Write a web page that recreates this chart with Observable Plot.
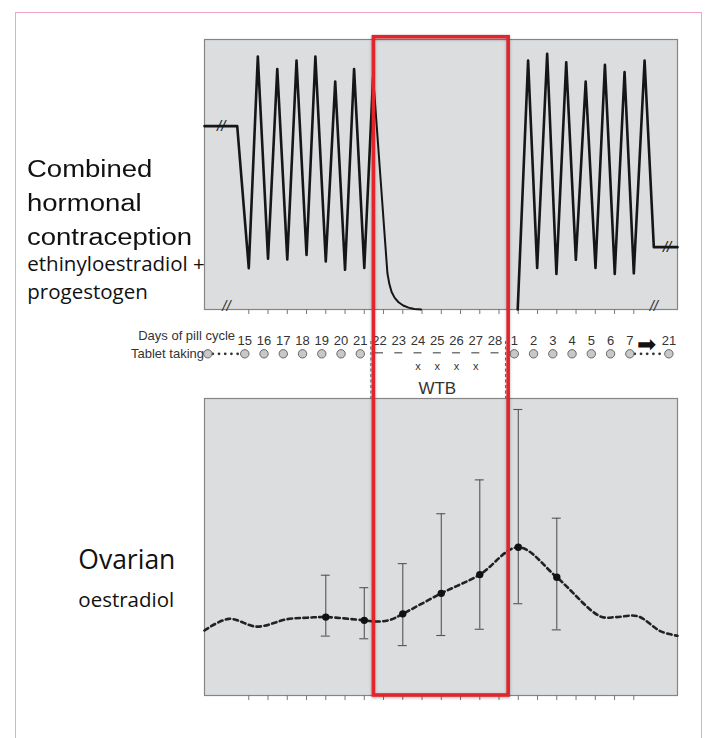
<!DOCTYPE html>
<html><head><meta charset="utf-8">
<script src="https://cdn.jsdelivr.net/npm/d3@7"></script>
<script src="https://cdn.jsdelivr.net/npm/@observablehq/plot@0.6"></script>
<style>
body{margin:0;background:#fff;}
#wrap{position:relative;width:706px;height:738px;overflow:hidden;background:#fff;}
#wrap svg{position:absolute;left:0;top:0;}
.lbl{position:absolute;white-space:nowrap;color:#111;}
.big{font-family:'Liberation Sans',Arial,sans-serif;font-size:23.5px;line-height:23.5px;transform:scaleX(1.17);transform-origin:0 0;left:27.3px;}
.small{font-family:'Open Sans',sans-serif;font-size:20.5px;line-height:17.5px;left:27.3px;}
</style></head><body>
<div id="wrap">
  <div style="position:absolute;left:15px;top:12px;width:685px;height:760px;border:1.5px solid #f2a3c6;border-bottom:none;"></div>
  <div id="plots"></div>
  <div class="lbl big" style="top:157.8px;">Combined</div>
  <div class="lbl big" style="top:191.8px;">hormonal</div>
  <div class="lbl big" style="top:225.6px;">contraception</div>
  <div class="lbl small" style="top:254.8px;">ethinyloestradiol +</div>
  <div class="lbl small" style="top:282.7px;">progestogen</div>
  <div class="lbl" style="left:78.3px;top:545.8px;font-family:'Open Sans',sans-serif;font-size:26.5px;line-height:26.5px;">Ovarian</div>
  <div class="lbl" style="left:78.3px;top:589.1px;font-family:'Open Sans',sans-serif;font-size:20.5px;line-height:20.5px;">oestradiol</div>
  <div class="lbl" style="right:471px;top:328.5px;font-family:'Liberation Sans',Arial,sans-serif;font-size:13px;line-height:13px;color:#333;">Days of pill cycle</div>
  <div class="lbl" style="right:502px;top:346.5px;font-family:'Liberation Sans',Arial,sans-serif;font-size:13px;line-height:13px;color:#333;">Tablet taking</div>
</div>
<script>
// ---- categories / tick labels ----
const dayLabels = ["15","16","17","18","19","20","21","22","23","24","25","26","27","28","1","2","3","4","5","6","7"];
const dayPos = dayLabels.map((_, i) => i);
const endLabel = "21";
const endPos = 22.03;
const arrowPos = 20.87;
const tabletKeyPos = -1.92;
const tabletTakenPos = [tabletKeyPos, 0, 1, 2, 3, 4, 5, 6, 14, 15, 16, 17, 18, 19, 20, endPos];
const wtbDayPos = [7, 8, 9, 10, 11, 12, 13];
const missedPos = [9, 10, 11, 12];
const wtbEdges = [6.5, 13.5];
const connectorFrom = [tabletKeyPos, 20];
const connectorTo = [0, endPos];

// ---- combined hormonal contraception (top panel) ----
const chcPrePos = [-2.3, -0.6, 0, 0.47, 1, 1.48, 2, 2.48, 3, 3.46, 4, 4.49, 5, 5.47, 6, 6.46];
const chcPreVal = [67.9, 67.9, 15.3, 93.7, 18.8, 89.1, 18.5, 92.2, 20.2, 93.7, 17.8, 84.4, 14.7, 89.1, 15.4, 86.3];
const chcWashPos = [6.46, 7.2, 7.3, 7.42, 7.58, 7.78, 8.02, 8.3, 8.6, 8.95];
const chcWashVal = [86.3, 13.5, 9.5, 6.5, 4.3, 2.7, 1.5, 0.7, 0.2, 0];
const chcPostPos = [13.97, 14.51, 14.98, 15.5, 15.98, 16.49, 16.99, 17.5, 18.01, 18.5, 19.01, 19.52, 20, 20.56, 21.04, 22.27];
const chcPostVal = [0, 92.2, 15.4, 94.7, 13.2, 91.6, 18.4, 84.4, 15.4, 90.6, 13.2, 87.9, 13.4, 92.2, 23.1, 23.1];
const lineBreakPos = [-1.43, 21.73];
const lineBreakVal = [67.9, 23.1];
const axisBreakPos = [-1.16, 21.04];

// ---- ovarian oestradiol (bottom panel) ----
const e2LinePos = [-2.3, -1.04, 0.43, 2, 3.03, 4, 6, 6.67, 7.36, 8, 10, 12, 14, 16, 18.27, 19.1, 20.2, 21.4, 22.27];
const e2LineVal = [21.9, 25.8, 23.2, 25.7, 26.2, 26.4, 25.3, 24.9, 25.5, 27.5, 34.4, 40.7, 49.9, 39.8, 26.6, 26.4, 26.7, 21.6, 20.1];
const e2Pos = [4, 6, 8, 10, 12, 14, 16];
const e2Mean = [26.4, 25.3, 27.5, 34.4, 40.7, 49.9, 39.8];
const e2Lo = [20.0, 19.1, 16.8, 20.2, 22.3, 30.9, 22.1];
const e2Hi = [40.5, 36.3, 44.4, 61.2, 72.6, 96.3, 59.7];

// ---- tables built from the arrays ----
const toRows = (p, v) => p.map((pos, i) => ({pos, val: v[i]}));
const chcPre = toRows(chcPrePos, chcPreVal);
const chcWash = toRows(chcWashPos, chcWashVal);
const chcPost = toRows(chcPostPos, chcPostVal);
const lineBreaks = toRows(lineBreakPos, lineBreakVal);
const e2Line = toRows(e2LinePos, e2LineVal);
const e2 = e2Pos.map((pos, i) => ({pos, mean: e2Mean[i], lo: e2Lo[i], hi: e2Hi[i]}));
const labelRows = dayLabels.map((label, i) => ({pos: dayPos[i], label})).concat([{pos: endPos, label: endLabel}]);
const connectors = connectorFrom.map((from, i) => ({from, to: connectorTo[i]}));
const wtbWindow = [{start: wtbEdges[0], end: wtbEdges[1], label: "WTB", mid: d3.mean(wtbEdges)}];

const W = 706, H = 738;
const xDomain = [-2.3, 22.27];
const font = "'Liberation Sans', Arial, sans-serif";
const base = {width: W, height: H, marginLeft: 204, marginRight: 29,
  style: {background: "transparent", fontFamily: font, overflow: "visible"}};
const panelFill = "#dcdddf", panelStroke = "#858585";

const topPlot = Plot.plot({
  ...base, marginTop: 39, marginBottom: H - 309,
  x: {domain: xDomain},
  y: {domain: [0, 100], axis: null},
  marks: [
    Plot.frame({fill: panelFill, stroke: panelStroke, strokeWidth: 1.2}),
    Plot.axisX(dayPos, {tickSize: 5, tickFormat: () => "", label: null, stroke: "#777"}),
    Plot.line(chcPre, {x: "pos", y: "val", stroke: "#161616", strokeWidth: 2.6}),
    Plot.line(chcWash, {x: "pos", y: "val", stroke: "#161616", strokeWidth: 2}),
    Plot.line(chcPost, {x: "pos", y: "val", stroke: "#161616", strokeWidth: 2.6}),
    Plot.text(lineBreaks, {x: "pos", y: "val", text: () => "//", fontSize: 15, fontStyle: "italic", fill: "#161616"}),
    Plot.text(axisBreakPos, {x: d => d, frameAnchor: "bottom", text: () => "//", fontSize: 15, fontStyle: "italic", fill: "#333", dy: 1})
  ]
});

// middle rows: frame spans 341..398, frame middle = 369.5
const midPlot = Plot.plot({
  ...base, marginTop: 341, marginBottom: H - 398,
  x: {domain: xDomain, axis: null},
  marks: [
    Plot.ruleX(wtbEdges, {x: d => d, dx: -3, stroke: "#555", strokeWidth: 1, strokeDasharray: "3,2.5"}),
    Plot.text(labelRows, {x: "pos", text: "label", frameAnchor: "top", dy: -5.5, dx: -4, fontSize: 13, fill: "#333"}),
    Plot.text([arrowPos], {x: d => d, text: () => "➡", frameAnchor: "top", dy: -6, dx: -4, fontSize: 23, fill: "#111"}),
    Plot.ruleY(connectors, {x1: "from", x2: "to", y: null, dy: -16.2, dx: -4, insetLeft: 5.5, insetRight: 6,
      stroke: "#333", strokeWidth: 2.8, strokeDasharray: "0 6.2", strokeLinecap: "round"}),
    Plot.dot(tabletTakenPos, {x: d => d, frameAnchor: "top", dy: 12.3, dx: -4, r: 4.2, fill: "#c8c8c8", stroke: "#666", strokeWidth: 1}),
    Plot.ruleY(wtbDayPos, {x1: d => d, x2: d => d, y: null, dy: -17.2, dx: -4, insetLeft: -4, insetRight: -4, stroke: "#555", strokeWidth: 1.2}),
    Plot.text(missedPos, {x: d => d, text: () => "x", frameAnchor: "top", dy: 21, dx: -4, fontSize: 11, fill: "#333"}),
    Plot.text(wtbWindow, {x: "mid", text: "label", frameAnchor: "top", dy: 40.7, dx: -4, fontSize: 17, fill: "#333"})
  ]
});

const bottomPlot = Plot.plot({
  ...base, marginTop: 398, marginBottom: H - 695,
  x: {domain: xDomain},
  y: {domain: [0, 100], axis: null},
  marks: [
    Plot.frame({fill: panelFill, stroke: panelStroke, strokeWidth: 1.2}),
    Plot.axisX(dayPos, {tickSize: 5, tickFormat: () => "", label: null, stroke: "#777"}),
    Plot.line(e2Line, {x: "pos", y: "val", curve: "catmull-rom", stroke: "#222", strokeWidth: 2.6, strokeDasharray: "4.5,3.5"}),
    Plot.ruleX(e2, {x: "pos", y1: "lo", y2: "hi", stroke: "#555", strokeWidth: 1.1}),
    Plot.ruleY(e2, {y: "lo", x1: "pos", x2: "pos", insetLeft: -4.5, insetRight: -4.5, stroke: "#555", strokeWidth: 1.1}),
    Plot.ruleY(e2, {y: "hi", x1: "pos", x2: "pos", insetLeft: -4.5, insetRight: -4.5, stroke: "#555", strokeWidth: 1.1}),
    Plot.dot(e2, {x: "pos", y: "mean", r: 3.7, fill: "#111"})
  ]
});

const overlayPlot = Plot.plot({
  ...base, marginTop: 36.7, marginBottom: H - 695,
  x: {domain: xDomain, axis: null},
  marks: [
    Plot.rect(wtbWindow, {x1: "start", x2: "end", fill: "none", stroke: "#e3252b", strokeWidth: 3.6})
  ]
});
overlayPlot.style.filter = "drop-shadow(0px 1.5px 1.5px rgba(0,0,0,0.3))";

const holder = document.getElementById("plots");
[topPlot, midPlot, bottomPlot, overlayPlot].forEach(p => holder.appendChild(p));
</script>
</body></html>
